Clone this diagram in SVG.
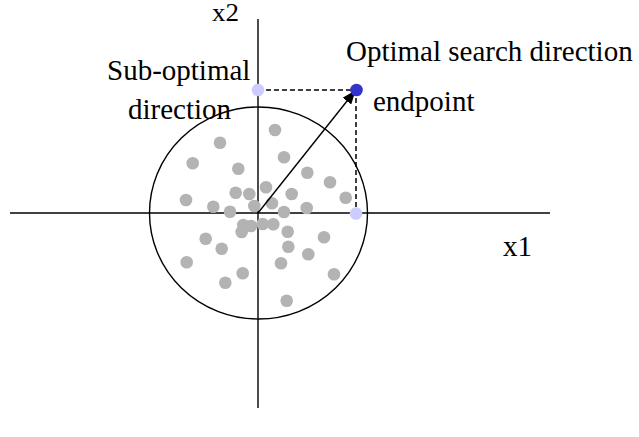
<svg xmlns="http://www.w3.org/2000/svg" width="639" height="437" viewBox="0 0 639 437">
<style>
.ax{stroke:#000;stroke-width:1.4;fill:none}
.dash{stroke:#000;stroke-width:1.5;stroke-dasharray:5,3;fill:none}
.pt{fill:#b3b3b3}
.lt{fill:#ccccff}
.bl{fill:#3333cc}
text{font-family:"Liberation Serif","Times New Roman",serif;font-size:29px;fill:#000}
</style>
<defs>
<marker id="ah" markerWidth="14" markerHeight="11" refX="13" refY="5.5" orient="auto" markerUnits="userSpaceOnUse" viewBox="0 0 14 11">
<path d="M0,0 L14,5.5 L0,11 Z" fill="#000"/>
</marker>
</defs>
<rect width="639" height="437" fill="#fff"/>
<g id="axes">
<line class="ax" x1="10" y1="213" x2="550" y2="213"/>
<line class="ax" x1="258" y1="19" x2="258" y2="408"/>
<ellipse id="circle" class="ax" cx="258.5" cy="213" rx="109" ry="106"/>
</g>
<g id="points">
<circle class="pt" cx="275" cy="130" r="6.3"/>
<circle class="pt" cx="220" cy="142.7" r="6.3"/>
<circle class="pt" cx="192.7" cy="163.3" r="6.3"/>
<circle class="pt" cx="284" cy="157.3" r="6.3"/>
<circle class="pt" cx="238.3" cy="168.7" r="6.3"/>
<circle class="pt" cx="307.3" cy="172.7" r="6.3"/>
<circle class="pt" cx="330" cy="182.3" r="6.3"/>
<circle class="pt" cx="266" cy="187.3" r="6.3"/>
<circle class="pt" cx="235.7" cy="192.7" r="6.3"/>
<circle class="pt" cx="249.3" cy="194" r="6.3"/>
<circle class="pt" cx="291.7" cy="194" r="6.3"/>
<circle class="pt" cx="345.7" cy="197.7" r="6.3"/>
<circle class="pt" cx="186" cy="200" r="6.3"/>
<circle class="pt" cx="213.3" cy="206.7" r="6.3"/>
<circle class="pt" cx="254.3" cy="206" r="6.3"/>
<circle class="pt" cx="272" cy="203.3" r="6.3"/>
<circle class="pt" cx="306.7" cy="208" r="6.3"/>
<circle class="pt" cx="230" cy="211.7" r="6.3"/>
<circle class="pt" cx="284" cy="212" r="6.3"/>
<circle class="pt" cx="243.3" cy="225" r="6.3"/>
<circle class="pt" cx="251" cy="226" r="6.3"/>
<circle class="pt" cx="241.7" cy="232" r="6.3"/>
<circle class="pt" cx="262.7" cy="224" r="6.3"/>
<circle class="pt" cx="273.3" cy="224.3" r="6.3"/>
<circle class="pt" cx="287.7" cy="231.7" r="6.3"/>
<circle class="pt" cx="324" cy="237.3" r="6.3"/>
<circle class="pt" cx="205.7" cy="238.7" r="6.3"/>
<circle class="pt" cx="221.7" cy="248.7" r="6.3"/>
<circle class="pt" cx="288.3" cy="246.7" r="6.3"/>
<circle class="pt" cx="308.3" cy="254.3" r="6.3"/>
<circle class="pt" cx="186.7" cy="262.3" r="6.3"/>
<circle class="pt" cx="281" cy="263.3" r="6.3"/>
<circle class="pt" cx="242.7" cy="273.3" r="6.3"/>
<circle class="pt" cx="334" cy="274.3" r="6.3"/>
<circle class="pt" cx="225.3" cy="282.7" r="6.3"/>
<circle class="pt" cx="286.7" cy="300.7" r="6.3"/>
</g>
<g id="connectors">
<line class="dash" x1="258" y1="90" x2="356" y2="90"/>
<line class="dash" x1="356" y1="90" x2="356" y2="213"/>
<line class="ax" x1="258" y1="213" x2="355" y2="91" marker-end="url(#ah)"/>
</g>
<g id="sub-optimal">
<circle class="lt" cx="258" cy="90" r="6.3"/>
<circle class="lt" cx="356" cy="213.5" r="6.3"/>
</g>
<g id="optimal">
<circle class="bl" cx="356.5" cy="90" r="6.3"/>
</g>
<g id="labels">
<text x="212" y="21" style="font-size:25px" textLength="27" lengthAdjust="spacingAndGlyphs">x2</text>
<text x="503" y="256">x1</text>
<text x="107" y="80">Sub-optimal</text>
<text x="128" y="119">direction</text>
<text x="346" y="61">Optimal search direction</text>
<text x="373" y="111">endpoint</text>
</g>
</svg>
